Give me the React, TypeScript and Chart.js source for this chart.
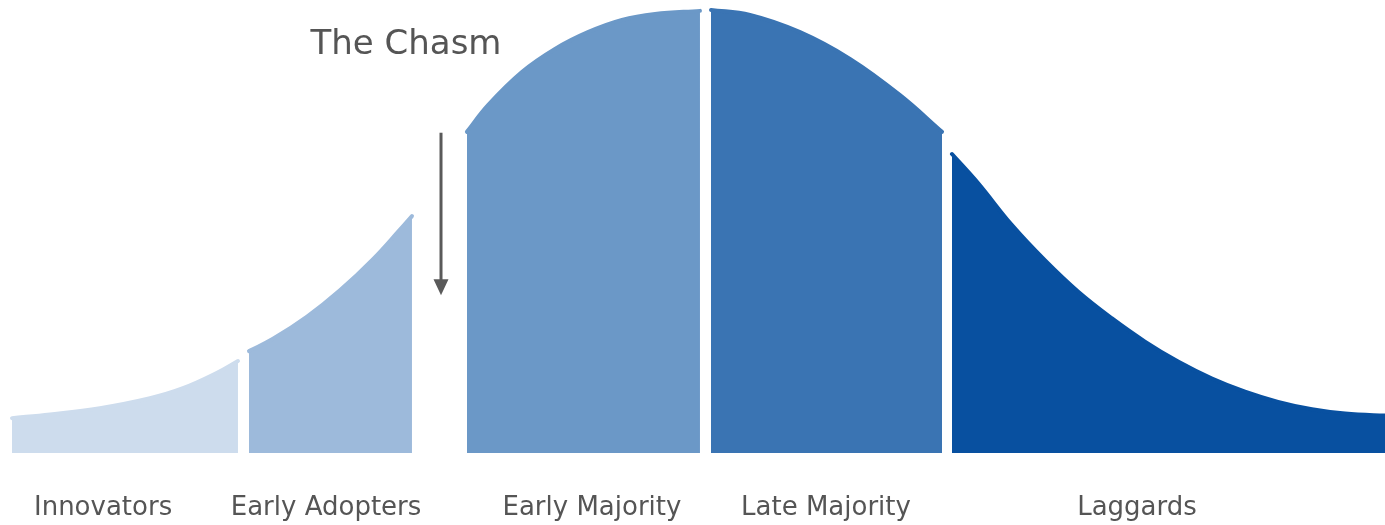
import React, { useEffect, useRef } from "react";
import { Chart, registerables } from "chart.js";

Chart.register(...registerables);

// Adoption segments (x in standard-deviation units, y as relative adoption density 0-100)
const categories = ["Innovators", "Early Adopters", "Early Majority", "Late Majority", "Laggards"];
const labelPositions = [-2.508, -1.579, -0.471, 0.504, 1.8];
const colors = ["#cddced", "#9dbadb", "#6b98c7", "#3a74b3", "#0850a0"];

const innovatorsX = [-2.8875, -2.729, -2.521, -2.3125, -2.175, -2.033, -1.946];
const innovatorsY = [7.7, 8.5, 9.9, 12.1, 14.3, 17.7, 20.3];

const earlyAdoptersX = [-1.9, -1.8, -1.658, -1.521, -1.383, -1.271, -1.221];
const earlyAdoptersY = [22.5, 25.2, 30.1, 35.9, 42.8, 49.3, 52.3];

const earlyMajorityX = [-0.992, -0.904, -0.763, -0.625, -0.488, -0.346, -0.208, -0.021];
const earlyMajorityY = [70.9, 76.8, 84.1, 89.2, 92.9, 95.6, 96.9, 97.6];

const lateMajorityX = [0.025, 0.1875, 0.396, 0.604, 0.8125, 0.9875];
const lateMajorityY = [97.8, 96.7, 92.9, 87.0, 79.0, 70.9];

const laggardsX = [1.029, 1.1375, 1.279, 1.417, 1.554, 1.696, 1.833, 1.971, 2.1125, 2.25, 2.3875, 2.529, 2.667, 2.854];
const laggardsY = [66.0, 59.6, 50.3, 42.5, 35.65, 29.7, 24.6, 20.2, 16.45, 13.55, 11.3, 9.65, 8.7, 8.2];

const xRange = [-2.9375, 2.8333];
const yRange = [0, 100];

// Annotation: "The Chasm" title and arrow
const chasmTitle = "The Chasm";
const chasmTitlePos = [-1.246, 90];
const chasmArrowX = -1.1;
const chasmArrowY = [70.7, 34.8];

const seriesX = [innovatorsX, earlyAdoptersX, earlyMajorityX, lateMajorityX, laggardsX];
const seriesY = [innovatorsY, earlyAdoptersY, earlyMajorityY, lateMajorityY, laggardsY];

const FONT = "'DejaVu Sans', Verdana, sans-serif";

const chasmPlugin = {
  id: "chasm",
  afterDatasetsDraw(chart: any) {
    const { ctx, scales } = chart;
    const xs = scales.x;
    const ys = scales.y;
    ctx.save();
    ctx.fillStyle = "#555555";
    ctx.font = `34px ${FONT}`;
    ctx.textAlign = "center";
    ctx.textBaseline = "middle";
    ctx.fillText(chasmTitle, xs.getPixelForValue(chasmTitlePos[0]), ys.getPixelForValue(chasmTitlePos[1]));

    const ax = xs.getPixelForValue(chasmArrowX);
    const y0 = ys.getPixelForValue(chasmArrowY[0]);
    const y1 = ys.getPixelForValue(chasmArrowY[1]);
    ctx.strokeStyle = "#5a5a5a";
    ctx.fillStyle = "#5a5a5a";
    ctx.lineWidth = 3;
    ctx.beginPath();
    ctx.moveTo(ax, y0);
    ctx.lineTo(ax, y1 - 14);
    ctx.stroke();
    ctx.beginPath();
    ctx.moveTo(ax - 7.5, y1 - 16);
    ctx.lineTo(ax + 7.5, y1 - 16);
    ctx.lineTo(ax, y1);
    ctx.closePath();
    ctx.fill();
    ctx.restore();
  },
};

export default function App() {
  const ref = useRef<HTMLCanvasElement>(null);

  useEffect(() => {
    document.body.style.margin = "0";
    const canvas = ref.current;
    if (!canvas) return;
    const datasets = seriesX.map((xs, i) => ({
      label: categories[i],
      data: xs.map((x, j) => ({ x, y: seriesY[i][j] })),
      backgroundColor: colors[i],
      borderColor: colors[i],
      borderWidth: 4,
      borderCapStyle: "round" as const,
      borderJoinStyle: "round" as const,
      fill: "origin",
      pointRadius: 0,
      tension: 0.4,
    }));
    const chart = new Chart(canvas, {
      type: "line",
      data: { datasets },
      options: {
        animation: false,
        responsive: true,
        maintainAspectRatio: false,
        layout: { padding: 0 },
        plugins: { legend: { display: false }, tooltip: { enabled: false } },
        scales: {
          x: {
            type: "linear",
            min: xRange[0],
            max: xRange[1],
            grid: { display: false, drawTicks: false },
            border: { display: false },
            afterBuildTicks: (scale: any) => {
              scale.ticks = labelPositions.map((v) => ({ value: v }));
            },
            afterFit: (scale: any) => {
              scale.height = 72;
              scale.paddingLeft = 0;
              scale.paddingRight = 0;
            },
            ticks: {
              autoSkip: false,
              maxRotation: 0,
              padding: 40,
              color: "#555555",
              font: { family: FONT, size: 26 },
              callback: (_v: any, i: number) => categories[i],
            },
          },
          y: {
            display: false,
            min: yRange[0],
            max: yRange[1],
          },
        },
      },
      plugins: [chasmPlugin],
    });
    return () => chart.destroy();
  }, []);

  return (
    <div style={{ width: "1385px", height: "525px", position: "relative" }}>
      <canvas ref={ref} />
    </div>
  );
}
